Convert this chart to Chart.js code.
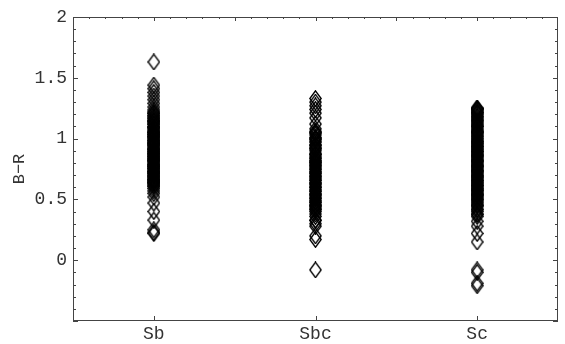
<!DOCTYPE html>
<html>
<head>
<meta charset="utf-8">
<script src="https://cdn.jsdelivr.net/npm/chart.js@4/dist/chart.umd.min.js"></script>
<style>
html,body{margin:0;padding:0;background:#fff;}
#wrap{width:565px;height:344px;}
</style>
</head>
<body>
<div id="wrap"><canvas id="c" width="565" height="344"></canvas></div>
<script>
const categories = ['Sb', 'Sbc', 'Sc'];
const yTickValues = [0, 0.5, 1, 1.5, 2];
const yTitle = 'B\u2212R';

const sbValues = [1.63, 1.44, 1.41, 1.38, 1.35, 1.32, 1.29, 1.26,
  1.22, 1.21, 1.19, 1.18, 1.17, 1.15, 1.14, 1.13, 1.12, 1.10, 1.09, 1.08, 1.07, 1.06,
  1.05, 1.04, 1.03, 1.02, 1.01, 1.00, 0.99, 0.98, 0.97, 0.96, 0.95, 0.94, 0.93, 0.92,
  0.91, 0.90, 0.89, 0.88, 0.87, 0.86, 0.85, 0.84, 0.83, 0.82, 0.81, 0.80, 0.79, 0.78,
  0.77, 0.76, 0.75, 0.74, 0.73, 0.72, 0.71, 0.70, 0.69, 0.68, 0.67, 0.66, 0.65, 0.64,
  0.63, 0.62, 0.61, 0.59, 0.57, 0.55, 0.52, 0.47, 0.40, 0.33, 0.25, 0.23, 0.22,
  1.205, 1.163, 1.118, 1.094, 1.052, 1.017, 0.984, 0.947, 0.913, 0.876, 0.852, 0.817,
  0.786, 0.754, 0.728, 0.693, 0.664, 0.637, 0.608, 1.236, 1.145, 1.034, 0.965, 0.892,
  0.834, 0.772, 0.715, 0.652];

const sbcValues = [1.33, 1.30, 1.27, 1.24, 1.21, 1.17, 1.12, 1.08, 1.06, 1.05,
  1.03, 1.01, 1.00, 0.98, 0.97, 0.95, 0.93, 0.92, 0.90, 0.88, 0.87, 0.85, 0.84, 0.82,
  0.81, 0.80, 0.79, 0.78, 0.76, 0.75, 0.73, 0.72, 0.70, 0.69, 0.67, 0.66, 0.64, 0.63,
  0.61, 0.60, 0.58, 0.57, 0.55, 0.54, 0.52, 0.51, 0.49, 0.48, 0.46, 0.45, 0.43, 0.42,
  0.40, 0.38, 0.36, 0.33, 0.30, 0.28, 0.20, 0.17, -0.08,
  1.044, 0.994, 0.944, 0.914, 0.866, 0.834, 0.806, 0.773, 0.744, 0.714, 0.683, 0.655,
  0.625, 0.596, 0.566, 0.534, 0.505, 0.474, 0.443, 0.415, 0.327];

const scValues = [1.25, 1.25, 1.24, 1.23, 1.22, 1.21, 1.20, 1.18, 1.17, 1.16, 1.15, 1.13,
  1.12, 1.11, 1.10, 1.08, 1.07, 1.06, 1.05, 1.04, 1.03, 1.02, 1.00, 0.99, 0.98, 0.97,
  0.96, 0.95, 0.94, 0.93, 0.92, 0.91, 0.90, 0.89, 0.88, 0.87, 0.86, 0.85, 0.84, 0.83,
  0.82, 0.81, 0.80, 0.79, 0.78, 0.77, 0.76, 0.75, 0.74, 0.73, 0.72, 0.71, 0.70, 0.69,
  0.68, 0.67, 0.66, 0.65, 0.64, 0.63, 0.62, 0.61, 0.60, 0.59, 0.58, 0.57, 0.56, 0.55,
  0.54, 0.53, 0.52, 0.51, 0.50, 0.48, 0.47, 0.45, 0.44, 0.42, 0.40, 0.38, 0.36, 0.32,
  0.28, 0.22, 0.15, -0.08, -0.10, -0.19, -0.21,
  1.245, 1.214, 1.186, 1.143, 1.096, 1.055, 1.013, 0.975, 0.936, 0.894, 0.857, 0.815,
  0.774, 0.736, 0.693, 0.655, 0.614, 0.575, 0.536, 0.494, 0.456, 0.415, 0.375];

const seriesValues = [sbValues, sbcValues, scValues];

// diamond marker image
function makeDiamond(w, h) {
  const cv = document.createElement('canvas');
  cv.width = w; cv.height = h;
  const g = cv.getContext('2d');
  g.strokeStyle = '#000';
  g.lineWidth = 1.4;
  g.beginPath();
  g.moveTo(w / 2, 0.8);
  g.lineTo(w - 0.8, h / 2);
  g.lineTo(w / 2, h - 0.8);
  g.lineTo(0.8, h / 2);
  g.closePath();
  g.stroke();
  return cv;
}
const diamond = makeDiamond(13, 17);

const points = [];
seriesValues.forEach((arr, i) => arr.forEach(v => points.push({x: i + 1, y: v})));

const FONT = "'Liberation Mono', 'Courier New', monospace";
const TXT = '#333';

const frameTicks = {
  id: 'frameTicks',
  afterDraw(chart) {
    const {ctx, chartArea: a, scales: {x, y}} = chart;
    ctx.save();
    ctx.fillStyle = '#444';
    const L = Math.round(a.left), R = Math.round(a.right) - 1;
    const T = Math.round(a.top), B = Math.round(a.bottom) - 1;
    ctx.fillRect(L, T, R - L + 1, 1);
    ctx.fillRect(L, B, R - L + 1, 1);
    ctx.fillRect(L, T, 1, B - T + 1);
    ctx.fillRect(R, T, 1, B - T + 1);
    for (let k = -5; k <= 20; k++) {
      const py = Math.round(y.getPixelForValue(k / 10));
      const len = (k % 5 === 0) ? 5 : 3;
      ctx.fillRect(L, py, len, 1);
      ctx.fillRect(R - len + 1, py, len, 1);
    }
    for (let k = 6; k <= 34; k++) {
      const px = Math.round(x.getPixelForValue(k / 10));
      const len = (k % 5 === 0) ? 4 : 2;
      ctx.fillRect(px, T, 1, len);
    }
    categories.forEach((c, i) => {
      const px = Math.round(x.getPixelForValue(i + 1));
      ctx.fillRect(px, B - 4, 1, 5);
    });
    ctx.restore();
  }
};

new Chart(document.getElementById('c'), {
  type: 'scatter',
  data: {
    datasets: [{
      data: points,
      pointStyle: diamond,
      pointRadius: 6,
      pointHoverRadius: 6,
      showLine: false
    }]
  },
  options: {
    responsive: false,
    animation: false,
    events: [],
    layout: {padding: {top: 17, right: 1.5, left: 0, bottom: 0}},
    plugins: {legend: {display: false}, tooltip: {enabled: false}},
    scales: {
      x: {
        type: 'linear',
        min: 0.5, max: 3.5,
        grid: {display: false, drawTicks: false},
        border: {display: false},
        afterBuildTicks: s => { s.ticks = categories.map((c, i) => ({value: i + 1})); },
        afterFit: s => { s.height = 23; },
        ticks: {
          autoSkip: false,
          maxRotation: 0,
          padding: 2,
          color: TXT,
          font: {family: FONT, size: 18},
          callback: v => categories[v - 1]
        }
      },
      y: {
        type: 'linear',
        min: -0.5, max: 2,
        grid: {display: false, drawTicks: false},
        border: {display: false},
        afterBuildTicks: s => { s.ticks = yTickValues.map(v => ({value: v})); },
        afterFit: s => { s.width = 73; },
        ticks: {
          padding: 6,
          color: TXT,
          font: {family: FONT, size: 18},
          callback: v => String(v)
        },
        title: {
          display: true,
          text: yTitle,
          color: TXT,
          font: {family: FONT, size: 17},
          padding: {top: 9, bottom: 0}
        }
      }
    }
  },
  plugins: [frameTicks]
});
</script>
</body>
</html>
